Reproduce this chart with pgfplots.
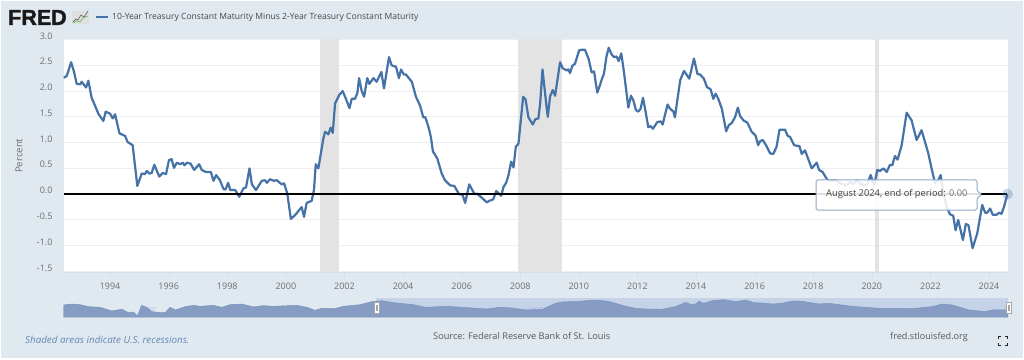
\documentclass[border=0pt]{standalone}
\usepackage{fontspec}
\usepackage{pgfplots}
\pgfplotsset{compat=1.18}
\setmainfont{Open Sans}
\newfontfamily\fredfont[BoldFeatures={FakeBold=1.6}]{Liberation Sans}
\definecolor{panel}{HTML}{E1E9F0}
\definecolor{fredblue}{HTML}{4572A7}
\definecolor{gridc}{HTML}{EDEFF2}
\definecolor{reccol}{HTML}{E3E3E3}
\definecolor{tickc}{HTML}{6E6E6E}
\definecolor{navsel}{HTML}{C5D2E8}
\definecolor{navarea}{HTML}{869CC3}
\definecolor{axline}{HTML}{D5DEE9}
\begin{document}
\begin{tikzpicture}
\path[use as bounding box,fill=white] (0,0) rectangle (1024pt,359pt);
\fill[panel] (1pt,1pt) rectangle (1023pt,358pt);
\begin{axis}[
  at={(63.5pt,87pt)},anchor=south west,scale only axis,
  width=944.5pt,height=232.5pt,
  xmin=1992.41,xmax=2024.65,ymin=-1.51,ymax=3.0,
  axis background/.style={fill=white},
  axis x line*=bottom,axis y line*=left,
  x axis line style={draw=axline,-},
  y axis line style={draw=none},
  xtick={1994,1996,...,2024},
  xticklabels={1994,1996,1998,2000,2002,2004,2006,2008,2010,2012,2014,2016,2018,2020,2022,2024},
  ytick={-1.5,-1,-0.5,0,0.5,1,1.5,2,2.5,3},
  yticklabels={-1.5,-1.0,-0.5,0.0,0.5,1.0,1.5,2.0,2.5,3.0},
  tick align=outside,
  xtick style={draw=axline},ytick style={draw=none},
  major tick length=6pt,
  ymajorgrids,grid style={gridc,line width=1pt},
  tick label style={font=\fontsize{9}{11}\selectfont,text=tickc},
  xticklabel style={yshift=-1pt},
  yticklabel style={xshift=-1.5pt,yshift=3.6pt},
  ylabel={Percent},
  every axis y label/.style={at={(axis description cs:-0.047,0.5)},rotate=90,anchor=center,font=\fontsize{9.6}{11}\selectfont,text=tickc},
]
\addplot[fill=reccol,draw=none] coordinates {(2001.17,-1.51)(2001.83,-1.51)(2001.83,3)(2001.17,3)} -- cycle;
\addplot[fill=reccol,draw=none] coordinates {(2007.93,-1.51)(2009.42,-1.51)(2009.42,3)(2007.93,3)} -- cycle;
\addplot[fill=reccol,draw=none] coordinates {(2020.10,-1.51)(2020.25,-1.51)(2020.25,3)(2020.10,3)} -- cycle;
\addplot[fredblue,line width=2.2pt,line join=round] coordinates {
(1992.41,2.26)(1992.52,2.29)(1992.67,2.56)(1992.77,2.37)(1992.86,2.14)(1992.98,2.13)(1993.03,2.18)(1993.18,2.07)(1993.26,2.20)(1993.37,1.87)
(1993.49,1.71)(1993.60,1.56)(1993.77,1.42)(1993.85,1.60)(1994.00,1.56)(1994.09,1.47)(1994.17,1.55)(1994.32,1.18)(1994.51,1.13)(1994.60,1.01)
(1994.77,0.95)(1994.93,0.16)(1995.08,0.40)(1995.19,0.39)(1995.25,0.45)(1995.34,0.40)(1995.42,0.41)(1995.51,0.57)(1995.68,0.34)(1995.79,0.41)
(1995.91,0.39)(1996.01,0.66)(1996.10,0.68)(1996.18,0.51)(1996.28,0.61)(1996.39,0.58)(1996.48,0.61)(1996.54,0.56)(1996.62,0.61)(1996.75,0.59)
(1996.87,0.47)(1997.04,0.58)(1997.13,0.47)(1997.27,0.43)(1997.44,0.43)(1997.53,0.26)(1997.62,0.37)(1997.75,0.27)(1997.87,0.10)(1997.94,0.09)
(1998.03,0.22)(1998.10,0.08)(1998.27,0.08)(1998.41,-0.05)(1998.55,0.11)(1998.64,0.13)(1998.76,0.50)(1998.84,0.19)(1998.98,0.08)(1999.18,0.26)
(1999.29,0.27)(1999.35,0.22)(1999.46,0.29)(1999.58,0.26)(1999.69,0.27)(1999.86,0.19)(1999.94,0.21)(2000.05,0.01)(2000.17,-0.48)(2000.31,-0.41)
(2000.54,-0.25)(2000.62,-0.44)(2000.71,-0.17)(2000.88,-0.13)(2000.96,0.08)(2001.02,0.58)(2001.11,0.50)(2001.28,1.08)(2001.34,1.21)(2001.45,1.16)
(2001.53,1.29)(2001.60,1.19)(2001.68,1.76)(2001.83,1.93)(2001.94,2.00)(2002.05,1.85)(2002.17,1.67)(2002.25,1.85)(2002.36,1.85)(2002.44,1.96)
(2002.50,2.25)(2002.59,2.00)(2002.67,1.89)(2002.78,2.25)(2002.85,2.14)(2002.99,2.25)(2003.10,2.18)(2003.26,2.37)(2003.35,2.05)(2003.52,2.66)
(2003.61,2.50)(2003.76,2.47)(2003.86,2.25)(2003.93,2.42)(2004.03,2.32)(2004.10,2.32)(2004.30,2.18)(2004.44,1.89)(2004.58,1.72)(2004.69,1.49)
(2004.76,1.49)(2004.87,1.30)(2004.95,1.11)(2005.02,0.83)(2005.17,0.69)(2005.32,0.40)(2005.43,0.27)(2005.61,0.17)(2005.75,0.16)(2005.91,0.00)
(2006.03,-0.01)(2006.12,-0.17)(2006.26,0.19)(2006.44,0.00)(2006.52,0.01)(2006.69,-0.07)(2006.86,-0.16)(2006.94,-0.13)(2007.08,-0.10)(2007.18,0.06)
(2007.35,-0.03)(2007.43,0.14)(2007.52,0.22)(2007.60,0.37)(2007.69,0.63)(2007.77,0.52)(2007.85,0.92)(2007.94,0.98)(2008.10,1.89)(2008.18,1.84)
(2008.28,1.49)(2008.43,1.35)(2008.51,1.45)(2008.62,1.47)(2008.68,1.76)(2008.76,2.42)(2008.88,1.79)(2008.94,1.50)(2009.02,1.90)(2009.11,2.02)
(2009.19,1.91)(2009.36,2.56)(2009.45,2.44)(2009.59,2.40)(2009.64,2.42)(2009.70,2.35)(2009.78,2.49)(2009.87,2.53)(2010.01,2.79)(2010.10,2.80)
(2010.21,2.80)(2010.33,2.63)(2010.44,2.36)(2010.52,2.38)(2010.63,1.97)(2010.72,2.11)(2010.78,2.22)(2010.86,2.34)(2010.94,2.66)(2011.02,2.84)
(2011.12,2.71)(2011.20,2.66)(2011.29,2.67)(2011.36,2.58)(2011.45,2.73)(2011.54,2.37)(2011.69,1.68)(2011.78,1.91)(2011.86,1.82)(2011.95,1.63)
(2012.03,1.60)(2012.11,1.66)(2012.19,1.87)(2012.28,1.60)(2012.37,1.30)(2012.45,1.32)(2012.53,1.27)(2012.68,1.40)(2012.80,1.41)(2012.86,1.35)
(2013.03,1.74)(2013.11,1.66)(2013.23,1.60)(2013.28,1.49)(2013.46,2.21)(2013.59,2.39)(2013.77,2.24)(2013.93,2.63)(2014.05,2.33)(2014.14,2.32)
(2014.27,2.24)(2014.37,2.08)(2014.50,2.03)(2014.59,1.85)(2014.67,1.95)(2014.76,1.85)(2014.88,1.66)(2015.03,1.22)(2015.12,1.34)(2015.22,1.38)
(2015.33,1.49)(2015.43,1.68)(2015.50,1.52)(2015.62,1.43)(2015.75,1.39)(2015.90,1.21)(2016.03,1.14)(2016.12,0.95)(2016.19,1.03)(2016.28,1.05)
(2016.39,0.95)(2016.53,0.79)(2016.64,0.78)(2016.75,0.92)(2016.85,1.25)(2017.04,1.25)(2017.13,1.13)(2017.21,1.11)(2017.35,0.95)(2017.53,0.93)
(2017.61,0.78)(2017.72,0.85)(2017.95,0.50)(2018.12,0.61)(2018.20,0.47)(2018.32,0.43)(2018.48,0.28)(2018.57,0.26)(2018.75,0.27)(2018.92,0.21)
(2019.14,0.17)(2019.26,0.24)(2019.37,0.19)(2019.48,0.27)(2019.66,0.19)(2019.83,0.17)(2019.96,0.37)(2020.08,0.17)(2020.19,0.47)(2020.28,0.45)
(2020.40,0.50)(2020.51,0.43)(2020.62,0.57)(2020.70,0.56)(2020.79,0.74)(2020.88,0.67)(2021.02,0.95)(2021.19,1.58)(2021.36,1.43)(2021.53,1.05)
(2021.70,1.24)(2021.93,0.79)(2022.04,0.50)(2022.16,0.21)(2022.27,0.27)(2022.35,0.37)(2022.44,0.01)(2022.56,-0.25)(2022.67,-0.39)(2022.78,-0.42)
(2022.86,-0.70)(2022.95,-0.50)(2023.11,-0.89)(2023.21,-0.58)(2023.30,-0.60)(2023.44,-1.05)(2023.60,-0.76)(2023.77,-0.21)(2023.87,-0.36)(2023.94,-0.36)
(2024.04,-0.28)(2024.13,-0.40)(2024.26,-0.40)(2024.34,-0.36)(2024.43,-0.38)(2024.51,-0.25)(2024.63,0.00)};
\addplot[black,line width=1.4pt] coordinates {(1992.41,0)(2024.63,0)};
\addplot[only marks,mark=*,mark size=5.5pt,color=fredblue,mark options={fill=fredblue,fill opacity=0.3,draw opacity=0}] coordinates {(2024.63,0)};
\end{axis}
% navigator
\begin{axis}[
  at={(63.5pt,42pt)},anchor=south west,scale only axis,
  width=944.5pt,height=19pt,
  xmin=1976.45,xmax=2024.65,ymin=-2.8,ymax=3.46,
  hide axis,
]
\addplot[fill=navsel,draw=none] coordinates {(1992.41,-2.8)(2024.65,-2.8)(2024.65,3.46)(1992.41,3.46)} -- cycle;
\addplot[fill=navarea,draw=fredblue!75,line width=0.5pt] coordinates {
(1976.45,-2.8)(1976.45,1.15)(1976.87,1.48)(1977.29,1.26)(1977.72,0.61)(1978.31,0.39)(1978.91,-0.82)(1979.42,-0.27)(1979.76,-1.37)(1980.02,-1.15)(1980.22,-2.47)
(1980.44,1.04)(1980.70,0.39)(1980.95,-1.04)(1981.38,-1.37)(1981.64,-1.37)(1981.89,0.39)(1982.15,-0.49)(1982.66,0.61)(1983.08,1.04)(1983.42,0.72)
(1984.10,1.04)(1984.53,0.39)(1984.95,1.26)(1985.55,1.48)(1986.14,0.50)(1986.65,0.94)(1987.17,0.72)(1988.35,1.04)(1988.87,0.39)(1989.29,-0.60)
(1989.63,0.06)(1990.31,-0.05)(1990.74,0.72)(1991.59,1.26)(1992.18,2.25)(1992.69,2.58)(1993.29,1.92)(1994.31,1.26)(1994.91,0.39)(1996.01,0.72)
(1997.03,0.28)(1998.05,-0.16)(1998.73,0.39)(1999.35,0.17)(2000.03,-0.49)(2000.88,-0.27)(2001.56,1.70)(2001.90,2.14)(2002.75,2.36)(2003.60,2.80)
(2004.28,2.36)(2004.96,1.04)(2005.64,0.06)(2006.15,-0.16)(2007.00,-0.27)(2007.68,0.61)(2008.20,2.03)(2008.45,1.37)(2008.71,1.48)(2008.88,2.36)
(2009.13,1.70)(2009.56,2.58)(2010.15,2.91)(2010.75,2.25)(2011.26,2.80)(2011.68,1.92)(2012.11,1.81)(2012.62,1.48)(2013.13,1.70)(2013.64,2.47)
(2014.15,2.36)(2015.00,1.48)(2015.51,1.70)(2016.70,0.71)(2018.06,0.06)(2019.76,-0.05)(2020.78,0.61)(2021.29,1.48)(2021.80,1.15)(2022.65,-0.49)
(2023.50,-1.04)(2023.84,-0.49)(2024.61,-0.49)(2024.65,-2.8)} -- cycle;
\end{axis}
\begin{scope}[x=1pt,y=-1pt,yshift=359pt]
% logo
\node[anchor=west,inner sep=0pt,text=black!90] at (8,17.5) {\fredfont\bfseries\fontsize{21.5}{21.5}\selectfont FRED};
\fill[gray!25] (72,11) rectangle (89,24);
\draw[gray!60!black,line width=0.5pt] (73,22)--(76,19)--(78,20)--(81,15)--(84,17)--(88,11);
\draw[green!40!gray,line width=0.5pt] (73,23)--(77,21)--(80,22)--(83,18)--(88,16);
% legend
\draw[fredblue,line width=1.3pt] (96,17)--(108,17);
\node[anchor=west,inner sep=0pt,text=black!72] at (112,17) {\fontsize{8.58}{11}\selectfont 10-Year Treasury Constant Maturity Minus 2-Year Treasury Constant Maturity};
% tooltip
\draw[draw=fredblue!60,fill=white,fill opacity=0.88,line width=1pt,rounded corners=1.5pt]
  (816,180)--(977,180)--(977,191)--(982,194.5)--(977,198)--(977,210)--(816,210)--cycle;
\node[anchor=west,inner sep=0pt,text=black!75] at (826,194.5) {\fontsize{9.3}{11}\selectfont August 2024, end of period: \textcolor{black!55}{0.00}};
% navigator decoration
\fill[white,draw=gray!70,line width=0.3pt] (374.5,302) rectangle (379,313);
\fill[white,draw=gray!70,line width=0.3pt] (1006,302) rectangle (1011,313);
\draw[gray!70,line width=0.4pt] (376,304.5)--(376,310.5) (377.5,304.5)--(377.5,310.5) (1007.8,304.5)--(1007.8,310.5) (1009.3,304.5)--(1009.3,310.5);
\foreach \xx/\yy in {148/1980,343/1990,535/2000,734/2010,930/2020}
  \node[text=gray!55!blue!60,inner sep=0pt,opacity=0.45] at (\xx,310) {\fontsize{7}{8}\selectfont\yy};
% footer
\node[anchor=west,inner sep=0pt,text=fredblue!85] at (25,340) {\fontsize{9.8}{11}\selectfont\itshape Shaded areas indicate U.S. recessions.};
\node[anchor=west,inner sep=0pt,text=black!65] at (433,336.5) {\fontsize{9.2}{11}\selectfont Source: Federal Reserve Bank of St. Louis};
\node[anchor=west,inner sep=0pt,text=black!65] at (890,337) {\fontsize{9.1}{11}\selectfont fred.stlouisfed.org};
\draw[black!85,line width=1pt] (998,339)--(998,336.5)--(1000.5,336.5) (1005,336.5)--(1007.5,336.5)--(1007.5,339) (998,343)--(998,345.5)--(1000.5,345.5) (1005,345.5)--(1007.5,345.5)--(1007.5,343);
\end{scope}
\end{tikzpicture}
\end{document}
